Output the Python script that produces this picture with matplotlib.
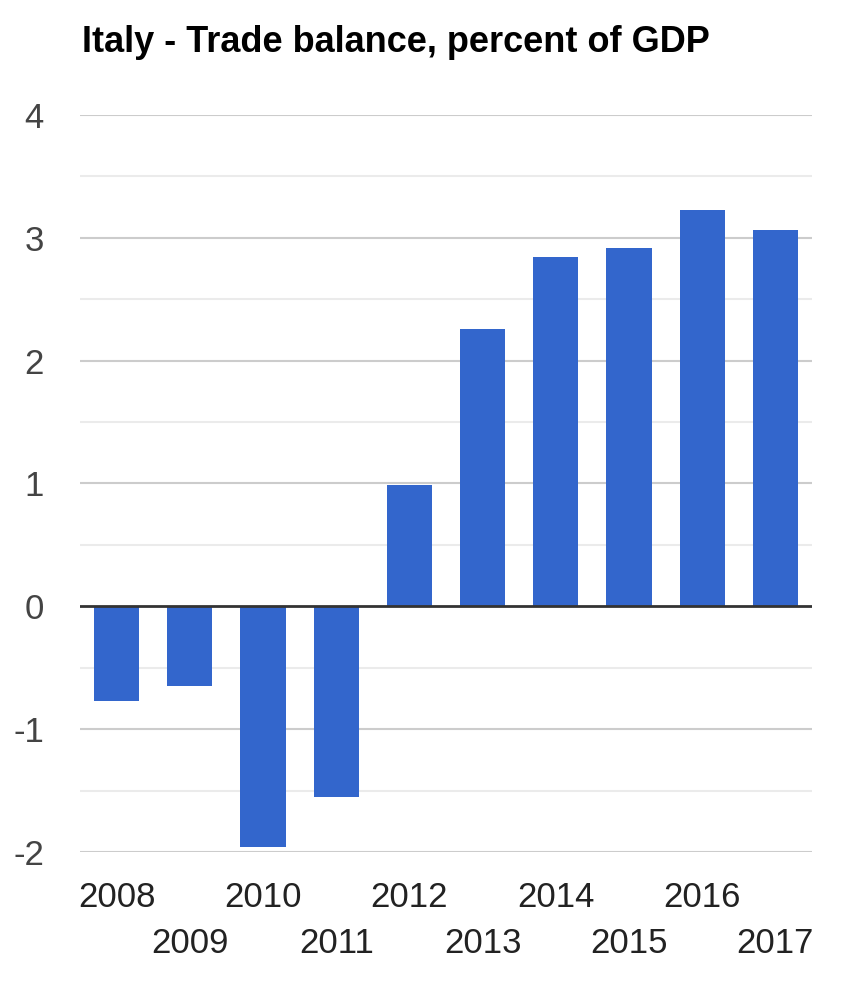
import matplotlib.pyplot as plt
import numpy as np

plt.rcParams['font.family'] = ['Liberation Sans', 'DejaVu Sans']

# Data
years = ['2008', '2009', '2010', '2011', '2012', '2013', '2014', '2015', '2016', '2017']
balance = [-0.77, -0.65, -1.96, -1.55, 0.99, 2.26, 2.84, 2.92, 3.23, 3.06]
yticks = [-2, -1, 0, 1, 2, 3, 4]

fig = plt.figure(figsize=(8.55, 9.97), dpi=100)
ax = fig.add_axes([80 / 855, 1 - 852 / 997, 732 / 855, 737 / 997])

x = np.arange(len(years))
ax.bar(x, balance, width=0.62, color='#3366cc', zorder=3)

ax.set_xlim(-0.5, len(years) - 0.5)
ax.set_ylim(-2, 4)

# gridlines: integers darker, halves lighter
for v in np.arange(-2, 4.01, 0.5):
    if v == 0:
        continue
    if v == int(v):
        ax.axhline(v, color='#cccccc', lw=1.5, zorder=1)
    else:
        ax.axhline(v, color='#ebebeb', lw=1.5, zorder=1)
ax.axhline(0, color='#333333', lw=2, zorder=4)

ax.set_yticks(yticks)
ax.set_yticklabels([str(t) for t in yticks])
ax.tick_params(axis='y', length=0, pad=26, labelsize=25, labelcolor='#444444')

# alternating two-row x labels
ax.set_xticks(x[::2])
ax.set_xticklabels(years[::2])
ax.set_xticks(x[1::2], minor=True)
ax.set_xticklabels(years[1::2], minor=True)
ax.tick_params(axis='x', which='major', length=0, pad=21, labelsize=25, labelcolor='#222222')
ax.tick_params(axis='x', which='minor', length=0, pad=54, labelsize=25, labelcolor='#222222')

for s in ax.spines.values():
    s.set_visible(False)

fig.text(82 / 855, 1 - 52 / 997, 'Italy - Trade balance, percent of GDP',
         fontsize=26, fontweight='bold', color='#000000', va='baseline', ha='left')

fig.savefig('out.png', dpi=100)
